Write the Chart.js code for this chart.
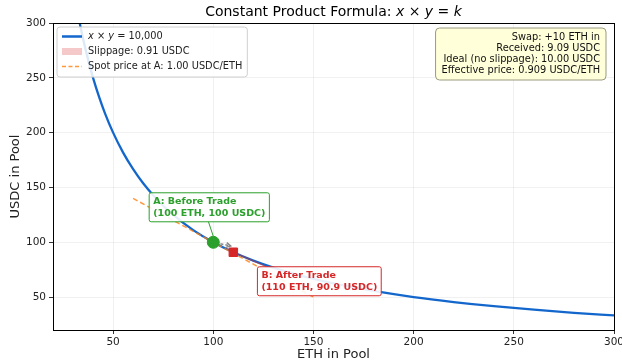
<!DOCTYPE html>
<html>
<head>
<meta charset="utf-8">
<script src="https://cdn.jsdelivr.net/npm/chart.js@4.4.0/dist/chart.umd.min.js"></script>
<style>
  html, body { margin: 0; padding: 0; background: #fff; }
</style>
</head>
<body>
<canvas id="chart" width="622" height="362"></canvas>
<script>
// Pool reserves along the curve x * y = 10,000
const ethReserve = [30, 32, 34, 36, 38, 40, 43, 46, 50, 55, 60, 65, 70, 75, 80, 90, 100, 110, 120, 130, 140, 150, 165, 180, 200, 220, 240, 260, 280, 300];
const usdcReserve = [333.3, 312.5, 294.1, 277.8, 263.2, 250, 232.6, 217.4, 200, 181.8, 166.7, 153.8, 142.9, 133.3, 125, 111.1, 100, 90.9, 83.3, 76.9, 71.4, 66.7, 60.6, 55.6, 50, 45.5, 41.7, 38.5, 35.7, 33.3];

// Spot price line at A
const spotEth = [60, 150];
const spotUsdc = [140, 50];

// Slippage region between A and B
const slipEth = [100, 102.5, 105, 107.5, 110];
const slipCurveUsdc = [100, 97.56, 95.24, 93.02, 90.91];
const slipSpotUsdc = [100, 97.5, 95, 92.5, 90];

const pointA = [100, 100];
const pointB = [110, 90.91];

const xTicks = [50, 100, 150, 200, 250, 300];
const yTicks = [50, 100, 150, 200, 250, 300];

const legendLabels = ['Slippage: 0.91 USDC', 'Spot price at A: 1.00 USDC/ETH'];
const infoLines = ['Swap: +10 ETH in', 'Received: 9.09 USDC', 'Ideal (no slippage): 10.00 USDC', 'Effective price: 0.909 USDC/ETH'];
const labelA = ['A: Before Trade', '(100 ETH, 100 USDC)'];
const labelB = ['B: After Trade', '(110 ETH, 90.9 USDC)'];

const FONT = "'DejaVu Sans', sans-serif";
const BLUE = '#1367cc';
const GREEN = '#2ca02c';
const RED = '#d62728';
const ORANGE = 'rgba(255,127,14,0.8)';
const PINK = 'rgba(214,39,40,0.25)';

const toXY = (xs, ys) => xs.map((x, i) => ({ x: x, y: ys[i] }));

// rich text: parts like {t:'x', i:true}
function richWidth(ctx, parts, size) {
  let w = 0;
  parts.forEach(p => {
    ctx.font = (p.i ? 'italic ' : '') + size + 'px ' + FONT;
    w += ctx.measureText(p.t).width;
  });
  return w;
}

function drawRich(ctx, parts, x, y, size, align) {
  let w = richWidth(ctx, parts, size);
  let cx = align === 'center' ? x - w / 2 : (align === 'right' ? x - w : x);
  ctx.textAlign = 'left';
  ctx.textBaseline = 'middle';
  parts.forEach(p => {
    ctx.font = (p.i ? 'italic ' : '') + size + 'px ' + FONT;
    ctx.fillText(p.t, cx, y);
    cx += ctx.measureText(p.t).width;
  });
}

function caja(ctx, x, y, w, h, r, fill, stroke) {
  ctx.beginPath();
  ctx.roundRect(x, y, w, h, r);
  ctx.fillStyle = fill;
  ctx.fill();
  ctx.strokeStyle = stroke;
  ctx.lineWidth = 1;
  ctx.stroke();
}

function etiqueta(ctx, lines, cx, cy, color) {
  ctx.font = 'bold 9.5px ' + FONT;
  const w = Math.max(...lines.map(l => ctx.measureText(l).width)) + 8;
  const h = lines.length * 12 + 5;
  const x0 = cx - w / 2, y0 = cy - h / 2;
  caja(ctx, x0, y0, w, h, 2, 'rgba(255,255,255,0.9)', color);
  ctx.fillStyle = color;
  ctx.textAlign = 'left';
  ctx.textBaseline = 'middle';
  ctx.font = 'bold 9.5px ' + FONT;
  lines.forEach((l, i) => ctx.fillText(l, x0 + 4, y0 + 2.5 + 6 + i * 12));
  return { x0, y0, w, h };
}

const decoraciones = {
  id: 'decoraciones',
  afterDraw(chart) {
    const ctx = chart.ctx;
    const area = chart.chartArea;
    const sx = chart.scales.x, sy = chart.scales.y;
    ctx.save();

    // Frame
    ctx.strokeStyle = '#000';
    ctx.lineWidth = 1;
    ctx.strokeRect(Math.round(area.left) + 0.5, Math.round(area.top) + 0.5, Math.round(area.right - area.left), Math.round(area.bottom - area.top));

    // Title
    ctx.fillStyle = '#000';
    drawRich(ctx, [
      { t: 'Constant Product Formula: ' }, { t: 'x', i: true }, { t: ' × ' },
      { t: 'y', i: true }, { t: ' = ' }, { t: 'k', i: true }
    ], (area.left + area.right) / 2, 12, 14, 'center');

    // Axis titles
    ctx.font = '13px ' + FONT;
    ctx.textAlign = 'center';
    ctx.textBaseline = 'middle';
    ctx.fillStyle = '#222';
    ctx.fillText('ETH in Pool', (area.left + area.right) / 2, 354.5);
    ctx.save();
    ctx.translate(16, (area.top + area.bottom) / 2);
    ctx.rotate(-Math.PI / 2);
    ctx.fillText('USDC in Pool', 0, 0);
    ctx.restore();

    const ax = sx.getPixelForValue(pointA[0]), ay = sy.getPixelForValue(pointA[1]);
    const bx = sx.getPixelForValue(pointB[0]), by = sy.getPixelForValue(pointB[1]);

    // Arrow A -> B
    const dx = bx - ax, dy = by - ay, len = Math.hypot(dx, dy);
    const ux = dx / len, uy = dy / len;
    const sx0 = ax + ux * 8, sy0 = ay + uy * 8 - 2;
    const ex = bx - ux * 3, ey = by - uy * 3 - 5;
    ctx.strokeStyle = '#888';
    ctx.lineWidth = 1.5;
    ctx.setLineDash([3, 2]);
    ctx.beginPath();
    ctx.moveTo(sx0, sy0);
    ctx.lineTo(ex, ey);
    ctx.stroke();
    ctx.setLineDash([]);
    const ang = Math.atan2(ey - sy0, ex - sx0);
    ctx.beginPath();
    ctx.moveTo(ex - 5 * Math.cos(ang - 0.5), ey - 5 * Math.sin(ang - 0.5));
    ctx.lineTo(ex, ey);
    ctx.lineTo(ex - 5 * Math.cos(ang + 0.5), ey - 5 * Math.sin(ang + 0.5));
    ctx.stroke();

    // Connectors
    const acx = ax - 4, acy = ay - 35;
    const bcx = bx + 86, bcy = by + 29;
    ctx.lineWidth = 1;
    ctx.strokeStyle = GREEN;
    ctx.beginPath();
    ctx.moveTo(ax, ay - 6);
    ctx.lineTo(acx - 1, acy + 14);
    ctx.stroke();
    ctx.strokeStyle = 'rgba(214,39,40,0.6)';
    ctx.lineWidth = 1.2;
    ctx.beginPath();
    ctx.moveTo(bx + 5, by + 2);
    ctx.lineTo(bcx - 52, bcy - 14);
    ctx.stroke();

    etiqueta(ctx, labelA, acx, acy, GREEN);
    etiqueta(ctx, labelB, bcx, bcy, RED);

    // Legend
    const lx = area.left + 4, ly = area.top + 4;
    ctx.font = '9.8px ' + FONT;
    const lw = ctx.measureText(legendLabels[1]).width + 36;
    caja(ctx, lx, ly, lw, 50, 3, 'rgba(255,255,255,0.85)', '#d0d0d0');
    const rows = [ly + 9.5, ly + 24.5, ly + 39.5];
    ctx.strokeStyle = BLUE;
    ctx.lineWidth = 2.5;
    ctx.beginPath();
    ctx.moveTo(lx + 5, rows[0]); ctx.lineTo(lx + 25, rows[0]);
    ctx.stroke();
    ctx.fillStyle = PINK;
    ctx.fillRect(lx + 5, rows[1] - 3.5, 20, 7);
    ctx.strokeStyle = ORANGE;
    ctx.lineWidth = 1.5;
    ctx.setLineDash([4, 2.5]);
    ctx.beginPath();
    ctx.moveTo(lx + 5, rows[2]); ctx.lineTo(lx + 25, rows[2]);
    ctx.stroke();
    ctx.setLineDash([]);
    ctx.fillStyle = '#222';
    drawRich(ctx, [{ t: 'x', i: true }, { t: ' × ' }, { t: 'y', i: true }, { t: ' = 10,000' }], lx + 31, rows[0], 9.8, 'left');
    ctx.font = '9.8px ' + FONT;
    ctx.fillText(legendLabels[0], lx + 31, rows[1]);
    ctx.fillText(legendLabels[1], lx + 31, rows[2]);

    // Info box
    ctx.font = '9.8px ' + FONT;
    const iw = Math.max(...infoLines.map(l => ctx.measureText(l).width)) + 12;
    const ix = area.right - 8 - iw, iy = area.top + 5;
    caja(ctx, ix, iy, iw, 52, 4, 'rgba(255,255,214,0.9)', '#9a9a80');
    ctx.fillStyle = '#111';
    ctx.textAlign = 'right';
    ctx.textBaseline = 'middle';
    infoLines.forEach((l, i) => ctx.fillText(l, area.right - 14, iy + 9.5 + i * 11));

    ctx.restore();
  }
};

const gridStyle = { color: 'rgba(0,0,0,0.07)', lineWidth: 0.8, tickColor: '#000', tickLength: 4 };
const tickStyle = { font: { family: FONT, size: 10.5 }, color: '#222', maxRotation: 0 };

new Chart(document.getElementById('chart'), {
  type: 'scatter',
  data: {
    datasets: [
      { data: toXY(slipEth, slipCurveUsdc), showLine: true, borderWidth: 0, pointRadius: 0, backgroundColor: PINK, fill: '+1', order: 6 },
      { data: toXY(slipEth, slipSpotUsdc), showLine: true, borderWidth: 0, pointRadius: 0, fill: false, order: 7 },
      { data: toXY(ethReserve, usdcReserve), showLine: true, borderColor: BLUE, borderWidth: 2.3, pointRadius: 0, cubicInterpolationMode: 'monotone', order: 3 },
      { data: toXY(spotEth, spotUsdc), showLine: true, borderColor: ORANGE, borderDash: [5, 3], borderWidth: 1.5, pointRadius: 0, order: 2 },
      { data: [{ x: pointA[0], y: pointA[1] }], pointRadius: 6, pointBackgroundColor: GREEN, pointBorderColor: GREEN, order: 0 },
      { data: [{ x: pointB[0], y: pointB[1] }], pointStyle: 'rect', pointRadius: 6, pointBackgroundColor: RED, pointBorderColor: RED, order: 0 }
    ]
  },
  options: {
    responsive: false,
    animation: false,
    devicePixelRatio: 1,
    layout: { padding: { top: 23, right: 8, left: 0, bottom: 0 } },
    plugins: { legend: { display: false }, tooltip: { enabled: false } },
    scales: {
      x: {
        type: 'linear', min: 20, max: 300,
        afterBuildTicks: s => { s.ticks = xTicks.map(v => ({ value: v })); },
        afterFit: s => { s.height = 32; s.paddingLeft = 0; s.paddingRight = 0; },
        grid: gridStyle,
        border: { color: '#000', width: 1 },
        ticks: Object.assign({ padding: 2 }, tickStyle)
      },
      y: {
        type: 'linear', min: 20, max: 300,
        afterBuildTicks: s => { s.ticks = yTicks.map(v => ({ value: v })); },
        afterFit: s => { s.width = 53; s.paddingTop = 0; s.paddingBottom = 0; },
        grid: gridStyle,
        border: { color: '#000', width: 1 },
        ticks: Object.assign({ padding: 3 }, tickStyle)
      }
    }
  },
  plugins: [decoraciones]
});
</script>
</body>
</html>
